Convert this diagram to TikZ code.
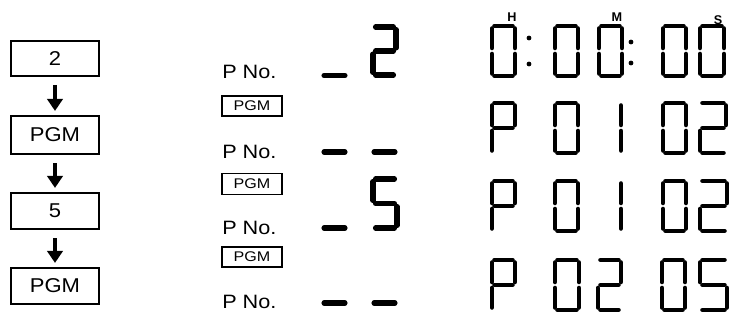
\documentclass[tikz,border=0pt]{standalone}
\usepackage{fontspec}
\setmainfont{Liberation Sans}
\usetikzlibrary{arrows.meta}
\newcommand\sgA[4]{\draw[seg] (#1+4.5,#2+2)--(#1+#3-4.5,#2+2);}
\newcommand\sgD[4]{\draw[seg] (#1+4.5,#2+#4-2)--(#1+#3-4.5,#2+#4-2);}
\newcommand\sgG[4]{\draw[seg] (#1+4.5,#2+#4/2)--(#1+#3-4.5,#2+#4/2);}
\newcommand\sgF[4]{\draw[seg] (#1+2,#2+4.5)--(#1+2,#2+#4/2-3);}
\newcommand\sgE[4]{\draw[seg] (#1+2,#2+#4/2+3)--(#1+2,#2+#4-4.5);}
\newcommand\sgB[4]{\draw[seg] (#1+#3-2,#2+4.5)--(#1+#3-2,#2+#4/2-3);}
\newcommand\sgC[4]{\draw[seg] (#1+#3-2,#2+#4/2+3)--(#1+#3-2,#2+#4-4.5);}
\newcommand\lcd[5]{\foreach \s in {#5}{\csname sg\s\endcsname{#1}{#2}{#3}{#4}}}
\newcommand\wide[2]{\scalebox{#1}[1]{#2}}
\begin{document}
\begin{tikzpicture}[x=0.75pt,y=-0.75pt,
  seg/.style={line width=3.4pt,line cap=round},
  keybox/.style={draw,line width=1.6pt,inner sep=0pt,minimum width=66pt,
    font=\fontsize{15}{15}\selectfont},
  smallkey/.style={draw,line width=1.2pt,inner sep=0pt,minimum width=45pt,
    font=\fontsize{10.5}{10.5}\selectfont},
  pno/.style={anchor=west,inner sep=0pt,font=\fontsize{14.5}{14.5}\selectfont},
  flow/.style={line width=3.6pt,-{Triangle[width=11.5pt,length=9pt]}},
  unit/.style={inner sep=0pt,font=\bfseries\fontsize{9.5}{9.5}\selectfont},
  dot/.style={fill,circle,inner sep=0pt,minimum size=3.6pt}]
\useasboundingbox (0,0) rectangle (739,320);
% ---- left key sequence
\node[keybox,minimum height=26pt] (k1) at (55,58.5) {\wide{1.1}{2}};
\node[keybox,minimum height=28.5pt] (k2) at (55,135) {\wide{1.1}{PGM}};
\node[keybox,minimum height=27pt] (k3) at (55,211) {\wide{1.1}{5}};
\node[keybox,minimum height=27pt] (k4) at (55,286) {\wide{1.1}{PGM}};
\draw[flow,shorten <=6pt,shorten >=3pt] (k1.south) -- (k2.north);
\draw[flow,shorten <=6pt,shorten >=3pt] (k2.south) -- (k3.north);
\draw[flow,shorten <=6pt,shorten >=3pt] (k3.south) -- (k4.north);
% ---- middle column
\node[pno] (p1) at (222,72) {\wide{1.12}{P No.}};
\node[smallkey,minimum height=15pt] (s1) at (252,106) {\wide{1.15}{PGM}};
\node[pno] (p2) at (222,151.5) {\wide{1.12}{P No.}};
\node[smallkey,minimum height=16pt] (s2) at (252,184) {\wide{1.15}{PGM}};
\node[pno] (p3) at (222,227.5) {\wide{1.12}{P No.}};
\node[smallkey,minimum height=15pt] (s3) at (252,257) {\wide{1.15}{PGM}};
\node[pno] (p4) at (222,302) {\wide{1.12}{P No.}};
\begin{scope}[seg/.style={line width=3.8pt,line cap=round}]
  \draw[seg] (324,75.5) -- (345,75.5);
  \lcd{371}{25}{27}{52}{A,B,G,E,D}
  \draw[seg] (324,152) -- (345,152);
  \draw[seg] (374,152) -- (395,152);
  \draw[seg] (324,228) -- (345,228);
  \lcd{371}{177}{28}{53}{A,F,G,C,D}
  \draw[seg] (324,303) -- (345,303);
  \draw[seg] (374,303) -- (395,303);
\end{scope}
% ---- right display
% row 1
\node[unit] (uh) at (512,17) {H};
\node[unit] (um) at (617,17) {M};
\node[unit] (us) at (718,20) {S};
\lcd{490}{24}{27}{54}{A,B,C,D,E,F}
\node[dot] (c1a) at (529,38) {};
\node[dot] (c1b) at (529,64) {};
\lcd{553}{24}{27}{54}{A,B,C,D,E,F}
\lcd{597}{24}{27}{54}{A,B,C,D,E,F}
\node[dot] (c2a) at (631,42) {};
\node[dot] (c2b) at (631,63) {};
\lcd{661}{24}{27}{54}{A,B,C,D,E,F}
\lcd{698}{24}{28}{54}{A,B,C,D,E,F}
% row 2
\lcd{490}{101}{27}{54}{A,B,F,G,E}
\lcd{553}{101}{27}{54}{A,B,C,D,E,F}
\lcd{596}{101}{27}{54}{B,C}
\lcd{661}{101}{27}{54}{A,B,C,D,E,F}
\lcd{698}{101}{30}{54}{A,B,G,E,D}
% row 3
\lcd{490}{179}{27}{54}{A,B,F,G,E}
\lcd{553}{179}{27}{54}{A,B,C,D,E,F}
\lcd{596}{179}{27}{54}{B,C}
\lcd{661}{179}{27}{54}{A,B,C,D,E,F}
\lcd{698}{179}{31}{54}{A,B,G,E,D}
% row 4
\lcd{490}{258}{27}{54}{A,B,F,G,E}
\lcd{553}{258}{28}{54}{A,B,C,D,E,F}
\lcd{596}{258}{27}{54}{A,B,G,E,D}
\lcd{660}{258}{27}{54}{A,B,C,D,E,F}
\lcd{698}{258}{31}{54}{A,F,G,C,D}
\end{tikzpicture}
\end{document}
